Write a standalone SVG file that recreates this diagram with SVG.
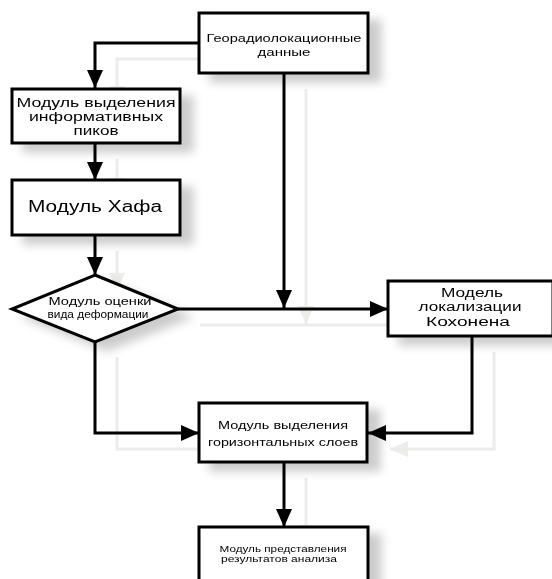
<svg xmlns="http://www.w3.org/2000/svg" width="552" height="579" viewBox="0 0 552 579">
<style>
.box{fill:#fff;stroke:#000;stroke-width:3}
.t{font-family:"Liberation Sans",Arial,sans-serif;fill:#000;text-anchor:middle}
.c{fill:none;stroke:#000;stroke-width:3}
.g{fill:none;stroke:#ececE8;stroke-width:3}
</style>
<defs>
<marker id="ah" markerUnits="userSpaceOnUse" markerWidth="18" markerHeight="16" refX="18" refY="8" orient="auto">
<path d="M0,0 L18,8 L0,16 Z" fill="#000"/>
</marker>
<marker id="gh" markerUnits="userSpaceOnUse" markerWidth="18" markerHeight="16" refX="18" refY="8" orient="auto">
<path d="M0,0 L18,8 L0,16 Z" fill="#ececE8"/>
</marker>
<filter id="sh" x="-20%" y="-20%" width="150%" height="160%">
<feDropShadow dx="12" dy="8" stdDeviation="5" flood-color="#000" flood-opacity="0.2"/>
</filter>
</defs>
<rect width="552" height="579" fill="#fff"/>
<g id="ghost" transform="translate(22,16)">
<path class="g" d="M199,43 H95 V88" marker-end="url(#gh)"/>
<path class="g" d="M95,143 V180" marker-end="url(#gh)"/>
<path class="g" d="M95,235 V275" marker-end="url(#gh)"/>
<path class="g" d="M178,309 H388" marker-end="url(#gh)"/>
<path class="g" d="M284,73 V308" marker-end="url(#gh)"/>
<path class="g" d="M472,336 V433 H368" marker-end="url(#gh)"/>
<path class="g" d="M95,341 V433 H199" marker-end="url(#gh)"/>
<path class="g" d="M284,462 V527" marker-end="url(#gh)"/>
</g>
<g id="geo" filter="url(#sh)">
<rect class="box" x="199" y="13" width="169" height="60"/>
<text class="t" font-size="11.5" x="284" y="42" textLength="155" lengthAdjust="spacingAndGlyphs">Георадиолокационные</text>
<text class="t" font-size="11.5" x="284" y="56" textLength="53" lengthAdjust="spacingAndGlyphs">данные</text>
</g>
<g id="peaks" filter="url(#sh)">
<rect class="box" x="12" y="89" width="168" height="54"/>
<text class="t" font-size="12" x="96" y="107" textLength="159" lengthAdjust="spacingAndGlyphs">Модуль выделения</text>
<text class="t" font-size="12" x="96" y="121" textLength="134" lengthAdjust="spacingAndGlyphs">информативных</text>
<text class="t" font-size="12" x="96" y="135" textLength="45" lengthAdjust="spacingAndGlyphs">пиков</text>
</g>
<g id="hough" filter="url(#sh)">
<rect class="box" x="12" y="180" width="168" height="55"/>
<text class="t" font-size="16" x="95" y="212" textLength="134" lengthAdjust="spacingAndGlyphs">Модуль Хафа</text>
</g>
<g id="deform" filter="url(#sh)">
<polygon class="box" points="95,275 178,309 95,342 12,309"/>
<text class="t" font-size="10" x="100" y="305" textLength="103" lengthAdjust="spacingAndGlyphs">Модуль оценки</text>
<text class="t" font-size="10" x="98" y="318" textLength="101" lengthAdjust="spacingAndGlyphs">вида деформации</text>
</g>
<g id="kohonen" filter="url(#sh)">
<rect class="box" x="388" y="281" width="165" height="55"/>
<text class="t" font-size="12.5" x="472" y="297" textLength="62" lengthAdjust="spacingAndGlyphs">Модель</text>
<text class="t" font-size="12.5" x="470" y="311" textLength="103" lengthAdjust="spacingAndGlyphs">локализации</text>
<text class="t" font-size="12.5" x="468" y="326" textLength="84" lengthAdjust="spacingAndGlyphs">Кохонена</text>
</g>
<g id="layers" filter="url(#sh)">
<rect class="box" x="199" y="403" width="168" height="59"/>
<text class="t" font-size="10.5" x="283" y="429" textLength="130" lengthAdjust="spacingAndGlyphs">Модуль выделения</text>
<text class="t" font-size="10.5" x="283" y="446" textLength="150" lengthAdjust="spacingAndGlyphs">горизонтальных слоев</text>
</g>
<g id="present" filter="url(#sh)">
<rect class="box" x="199" y="527" width="169" height="60"/>
<text class="t" font-size="8.5" x="283" y="552" textLength="127" lengthAdjust="spacingAndGlyphs">Модуль представления</text>
<text class="t" font-size="8.5" x="279" y="562" textLength="116" lengthAdjust="spacingAndGlyphs">результатов анализа</text>
</g>
<g id="connectors">
<path class="c" d="M199,43 H95 V88" marker-end="url(#ah)"/>
<path class="c" d="M95,143 V180" marker-end="url(#ah)"/>
<path class="c" d="M95,235 V275" marker-end="url(#ah)"/>
<path class="c" d="M178,309 H388" marker-end="url(#ah)"/>
<path class="c" d="M284,73 V308" marker-end="url(#ah)"/>
<path class="c" d="M472,336 V433 H368" marker-end="url(#ah)"/>
<path class="c" d="M95,341 V433 H199" marker-end="url(#ah)"/>
<path class="c" d="M284,462 V527" marker-end="url(#ah)"/>
</g>
</svg>
